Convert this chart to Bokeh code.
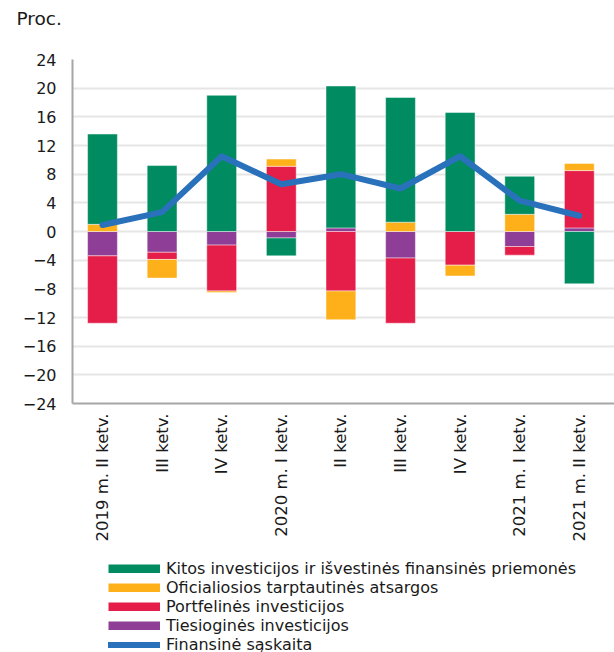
import numpy as np
from bokeh.plotting import figure
from bokeh.layouts import column
from bokeh.models import (FixedTicker, Legend, LegendItem, Range1d, Title,
                          ColumnDataSource)
from bokeh.embed import file_html
from bokeh.resources import INLINE

# ---- data ----
categories = ["2019 m. II ketv.", "III ketv.", "IV ketv.", "2020 m. I ketv.",
              "II ketv.", "III ketv.", "IV ketv.", "2021 m. I ketv.",
              "2021 m. II ketv."]
direct = [-3.4, -2.9, -1.9, -0.9, 0.5, -3.7, 0.0, -2.1, 0.5]        # Tiesioginės
portfolio = [-9.4, -1.0, -6.4, 9.1, -8.3, -9.1, -4.7, -1.2, 8.0]     # Portfelinės
official = [1.0, -2.6, -0.2, 1.0, -4.0, 1.3, -1.5, 2.4, 1.0]         # Oficialiosios
other = [12.6, 9.2, 19.0, -2.5, 19.8, 17.4, 16.6, 5.3, -7.3]         # Kitos
financial = [0.9, 2.7, 10.5, 6.6, 8.0, 6.0, 10.5, 4.3, 2.2]          # Finansinė sąskaita
y_ticks = [-24, -20, -16, -12, -8, -4, 0, 4, 8, 12, 16, 20, 24]

names = ["Tiesioginės investicijos", "Portfelinės investicijos",
         "Oficialiosios tarptautinės atsargos",
         "Kitos investicijos ir išvestinės finansinės priemonės"]
line_name = "Finansinė sąskaita"
unit_label = "Proc."
series = [direct, portfolio, official, other]
colors = ["#8E3E96", "#E41E48", "#FDB01A", "#008C60"]
line_color = "#2A71BC"

FONT = "DejaVu Sans"
TXT = "#1a1a1a"
W = 614
LEFT = 72
x = np.arange(len(categories))


def blank(height):
    f = figure(width=W, height=height, output_backend="svg",
               toolbar_location=None, x_range=Range1d(0, W - LEFT),
               y_range=Range1d(0, height), x_axis_type=None, y_axis_type=None,
               min_border=0, min_border_left=LEFT, min_border_right=0,
               min_border_top=0, min_border_bottom=0)
    f.outline_line_color = None
    f.grid.visible = False
    return f


# ---- header with unit label ----
HEAD_H = 40
head = blank(HEAD_H)
head.add_layout(Title(text=unit_label, align="left", offset=-56, standoff=11,
                      text_font=FONT, text_font_size="18.5px",
                      text_font_style="normal", text_color=TXT), "above")
head.line(x=[np.nan, np.nan], y=[np.nan, np.nan])

# ---- main chart ----
p = figure(width=W, height=509, output_backend="svg", toolbar_location=None,
           x_range=Range1d(-0.503, 8.59), y_range=Range1d(-24, 24),
           min_border_left=LEFT, min_border_top=19, min_border_right=0,
           min_border_bottom=146)
p.outline_line_color = None

# stacked bars: positive and negative stacks separately
pos = np.zeros(len(x))
neg = np.zeros(len(x))
for vals, c in zip(series, colors):
    v = np.array(vals, dtype=float)
    bottom = np.where(v >= 0, pos, neg)
    top = bottom + v
    pos = np.where(v >= 0, top, pos)
    neg = np.where(v < 0, top, neg)
    src = ColumnDataSource(dict(x=x, bottom=bottom, top=top))
    p.vbar(x="x", bottom="bottom", top="top", width=0.5, source=src,
           fill_color=c, line_color="white", line_alpha=0.45, line_width=1)

p.line(x, financial, line_width=6, color=line_color,
       line_cap="round", line_join="round")

p.yaxis.ticker = FixedTicker(ticks=y_ticks)
p.yaxis.major_label_overrides = {t: str(t).replace("-", "\u2212") for t in y_ticks}
p.xaxis.ticker = FixedTicker(ticks=list(x))
p.xaxis.major_label_overrides = {int(i): c for i, c in zip(x, categories)}
p.xaxis.major_label_orientation = np.pi / 2
for ax in (p.xaxis, p.yaxis):
    ax.axis_line_color = "#a6a6a6"
    ax.axis_line_width = 2
    ax.major_tick_line_color = None
    ax.minor_tick_line_color = None
    ax.major_label_text_font = FONT
    ax.major_label_text_color = TXT
p.yaxis.major_label_text_font_size = "16px"
p.xaxis.major_label_text_font_size = "16.5px"
p.yaxis.major_label_standoff = 10
p.xaxis.major_label_standoff = 4

p.xgrid.grid_line_color = None
p.ygrid.grid_line_color = "#e6e6e6"
p.ygrid.grid_line_width = 2

# ---- legend strip ----
LEG_H = 103
leg = blank(LEG_H)
nan = [np.nan, np.nan]
rend = {}
for n, c in zip(names, colors):
    rend[n] = leg.line(x=nan, y=nan, line_width=9, color=c, line_cap="butt")
rend[line_name] = leg.line(x=nan, y=nan, line_width=6, color=line_color,
                           line_cap="round")
order = list(reversed(names)) + [line_name]
legend = Legend(items=[LegendItem(label=n, renderers=[rend[n]]) for n in order],
                orientation="vertical", location=(108 - LEFT, -2),
                border_line_color=None, background_fill_alpha=0,
                padding=0, margin=0, spacing=0, label_standoff=6,
                glyph_width=52, glyph_height=9, label_height=19,
                label_text_font=FONT, label_text_font_size="16px",
                label_text_color=TXT)
leg.add_layout(legend)

layout = column(head, p, leg, spacing=0)
open("out.html", "w").write(file_html(layout, INLINE))
